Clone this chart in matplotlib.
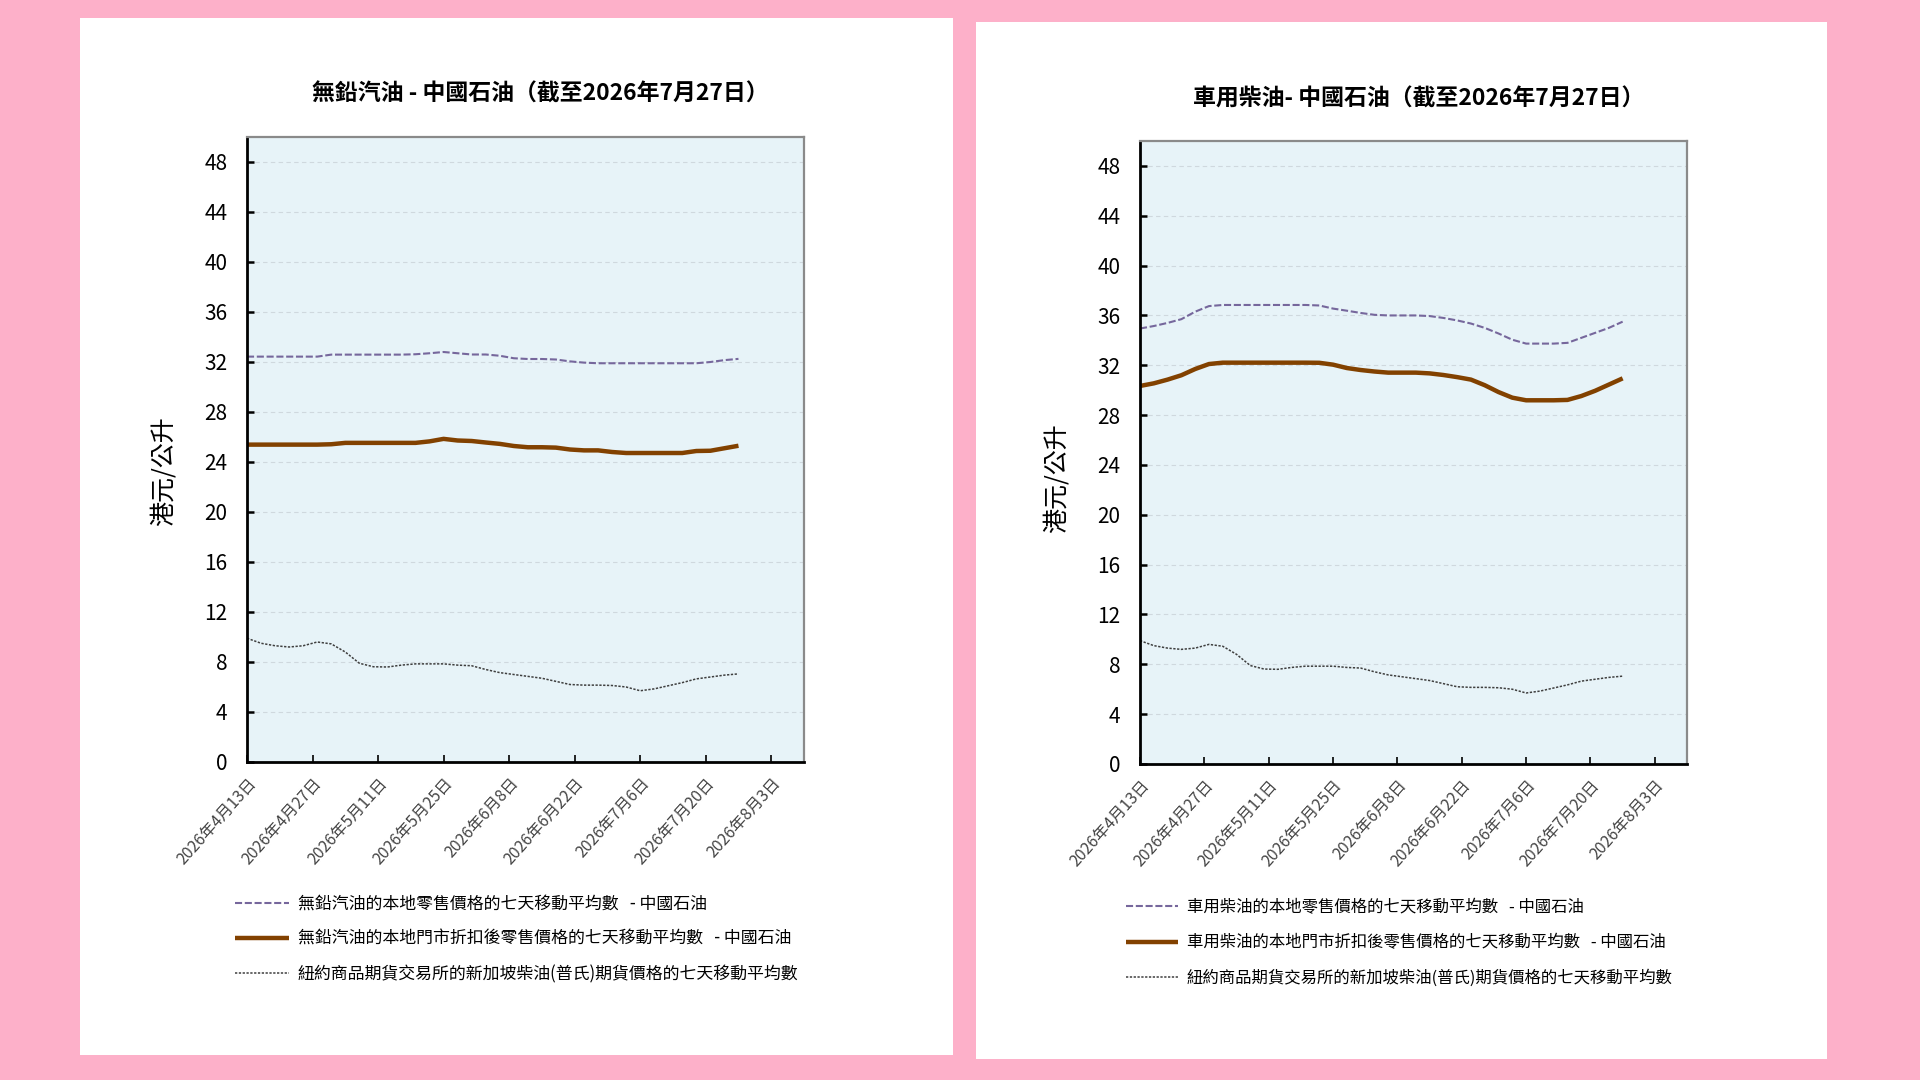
import matplotlib
matplotlib.use("Agg")
import matplotlib.pyplot as plt
from matplotlib.patches import Rectangle
import numpy as np
import pandas as pd

plt.rcParams['font.family'] = ['Liberation Sans Narrow', 'Noto Sans CJK TC', 'DejaVu Sans']

# ---------------- data ----------------
start_date = "2026-04-13"
day_offsets = list(range(0, 106, 3))   # sampling days, 2026-04-13 .. 2026-07-27

petrol_retail = [32.43, 32.43, 32.43, 32.43, 32.43, 32.43, 32.59, 32.59, 32.59, 32.59,
                 32.59, 32.59, 32.62, 32.70, 32.80, 32.70, 32.60, 32.60, 32.50, 32.30,
                 32.24, 32.24, 32.20, 32.05, 31.95, 31.90, 31.90, 31.90, 31.90, 31.90,
                 31.90, 31.90, 31.90, 32.00, 32.15, 32.25]
petrol_discount = [25.39, 25.39, 25.39, 25.39, 25.39, 25.39, 25.42, 25.53, 25.53, 25.53,
                   25.53, 25.53, 25.53, 25.65, 25.85, 25.72, 25.68, 25.56, 25.45, 25.28,
                   25.18, 25.18, 25.15, 25.00, 24.93, 24.93, 24.80, 24.72, 24.72, 24.72,
                   24.72, 24.72, 24.88, 24.90, 25.10, 25.30]
diesel_retail = [34.95, 35.15, 35.40, 35.70, 36.30, 36.75, 36.84, 36.84, 36.84, 36.84,
                 36.84, 36.84, 36.84, 36.80, 36.55, 36.38, 36.20, 36.05, 36.00, 36.00,
                 36.00, 35.95, 35.80, 35.60, 35.35, 35.00, 34.55, 34.05, 33.74, 33.74,
                 33.74, 33.80, 34.20, 34.60, 35.00, 35.50]
diesel_discount = [30.34, 30.55, 30.85, 31.20, 31.70, 32.10, 32.21, 32.21, 32.21, 32.21,
                   32.21, 32.21, 32.21, 32.20, 32.05, 31.78, 31.62, 31.50, 31.41, 31.41,
                   31.41, 31.35, 31.22, 31.05, 30.85, 30.40, 29.85, 29.40, 29.19, 29.19,
                   29.19, 29.22, 29.53, 29.95, 30.45, 30.95]
nymex_sg_diesel = [9.90, 9.50, 9.30, 9.20, 9.30, 9.60, 9.45, 8.80, 7.90, 7.62,
                   7.60, 7.75, 7.85, 7.85, 7.85, 7.75, 7.70, 7.40, 7.15, 7.00,
                   6.85, 6.70, 6.45, 6.20, 6.15, 6.15, 6.12, 6.00, 5.70, 5.85,
                   6.10, 6.35, 6.65, 6.80, 6.95, 7.05]

tick_dates = ["2026-04-13", "2026-04-27", "2026-05-11", "2026-05-25", "2026-06-08",
              "2026-06-22", "2026-07-06", "2026-07-20", "2026-08-03"]
tick_labels = ["2026年4月13日", "2026年4月27日", "2026年5月11日", "2026年5月25日", "2026年6月8日",
               "2026年6月22日", "2026年7月6日", "2026年7月20日", "2026年8月3日"]
x_end = "2026-08-10"
y_ticks = [0, 4, 8, 12, 16, 20, 24, 28, 32, 36, 40, 44, 48]

titles = ["無鉛汽油 - 中國石油（截至2026年7月27日）", "車用柴油- 中國石油（截至2026年7月27日）"]
ylabel = "港元/公升"
legend_left = ["無鉛汽油的本地零售價格的七天移動平均數   - 中國石油",
               "無鉛汽油的本地門市折扣後零售價格的七天移動平均數   - 中國石油",
               "紐約商品期貨交易所的新加坡柴油(普氏)期貨價格的七天移動平均數"]
legend_right = ["車用柴油的本地零售價格的七天移動平均數   - 中國石油",
                "車用柴油的本地門市折扣後零售價格的七天移動平均數   - 中國石油",
                "紐約商品期貨交易所的新加坡柴油(普氏)期貨價格的七天移動平均數"]

# ---------------- style ----------------
PINK = "#fdb0c9"
PLOT_BG = "#e7f3f8"
PURPLE = "#76679c"
BROWN = "#824100"
GREY = "#3f3f3f"

dates = pd.to_datetime(start_date) + pd.to_timedelta(day_offsets, unit="D")

W, H = 1920, 1080
fig = plt.figure(figsize=(19.2, 10.8), dpi=100)
fig.patch.set_facecolor(PINK)

def fx(px):
    return px / W

def fy(py):
    return 1 - py / H

# white cards
for (x0, y0, x1, y1) in [(80, 18, 953, 1055), (976, 22, 1827, 1059)]:
    fig.add_artist(Rectangle((fx(x0), fy(y1)), fx(x1) - fx(x0), fy(y0) - fy(y1),
                             transform=fig.transFigure, facecolor="white",
                             edgecolor="none", zorder=-5))

panels = [
    dict(rect=(247, 137, 804, 762), retail=petrol_retail, disc=petrol_discount,
         title=titles[0], title_xy=(540, 94), labels=legend_left,
         ylab_xy=(-0.127, 0.466), leg_xy=(235, 895), leg_fs=12.2, leg_sp=1.0),
    dict(rect=(1140, 141, 1687, 764), retail=diesel_retail, disc=diesel_discount,
         title=titles[1], title_xy=(1419, 99), labels=legend_right,
         ylab_xy=(-0.128, 0.459), leg_xy=(1126, 899), leg_fs=11.8, leg_sp=1.12),
]

for p in panels:
    x0, y0, x1, y1 = p["rect"]
    ax = fig.add_axes([fx(x0), fy(y1), fx(x1) - fx(x0), fy(y0) - fy(y1)])
    ax.set_facecolor(PLOT_BG)
    l1, = ax.plot(dates, p["retail"], color=PURPLE, lw=1.5, linestyle=(0, (3.4, 1.3)))
    l2, = ax.plot(dates, p["disc"], color=BROWN, lw=3.2, solid_capstyle="butt")
    l3, = ax.plot(dates, nymex_sg_diesel, color=GREY, lw=1.1, linestyle=(0, (1.5, 1.0)))

    ax.set_ylim(0, 50)
    ax.set_yticks(y_ticks)
    ax.set_xlim(pd.to_datetime(start_date), pd.to_datetime(x_end))
    ax.set_xticks(pd.to_datetime(tick_dates))
    ax.set_xticklabels(tick_labels, rotation=48, ha="right", rotation_mode="anchor",
                       fontsize=11.5, color="#444444")
    for lab in ax.get_yticklabels():
        lab.set_fontsize(15)
    ax.tick_params(axis="y", direction="in", length=5, width=1.8, pad=14, colors="black")
    ax.tick_params(axis="x", direction="in", length=5, width=1.2, pad=9, colors="black")
    for lab in ax.get_xticklabels():
        lab.set_color("#444444")
    ax.grid(axis="y", color="#cfd8de", lw=0.8, linestyle=(0, (4, 3)))
    ax.set_axisbelow(True)
    for side in ["left", "bottom"]:
        ax.spines[side].set_color("black")
        ax.spines[side].set_linewidth(2.0)
    for side in ["top", "right"]:
        ax.spines[side].set_color("#8a8a8a")
        ax.spines[side].set_linewidth(1.6)

    ax.set_ylabel(ylabel, fontsize=18)
    ax.yaxis.set_label_coords(*p["ylab_xy"])

    fig.text(fx(p["title_xy"][0]), fy(p["title_xy"][1]), p["title"], ha="center",
             va="center", fontsize=16.5, fontweight="bold")

    fig.legend([l1, l2, l3], p["labels"], loc="upper left",
               bbox_to_anchor=(fx(p["leg_xy"][0]), fy(p["leg_xy"][1])),
               frameon=False, fontsize=p["leg_fs"], handlelength=3.2, handletextpad=0.5,
               labelspacing=p["leg_sp"], borderaxespad=0, borderpad=0)

fig.savefig("out.png", dpi=100, facecolor=fig.get_facecolor())
